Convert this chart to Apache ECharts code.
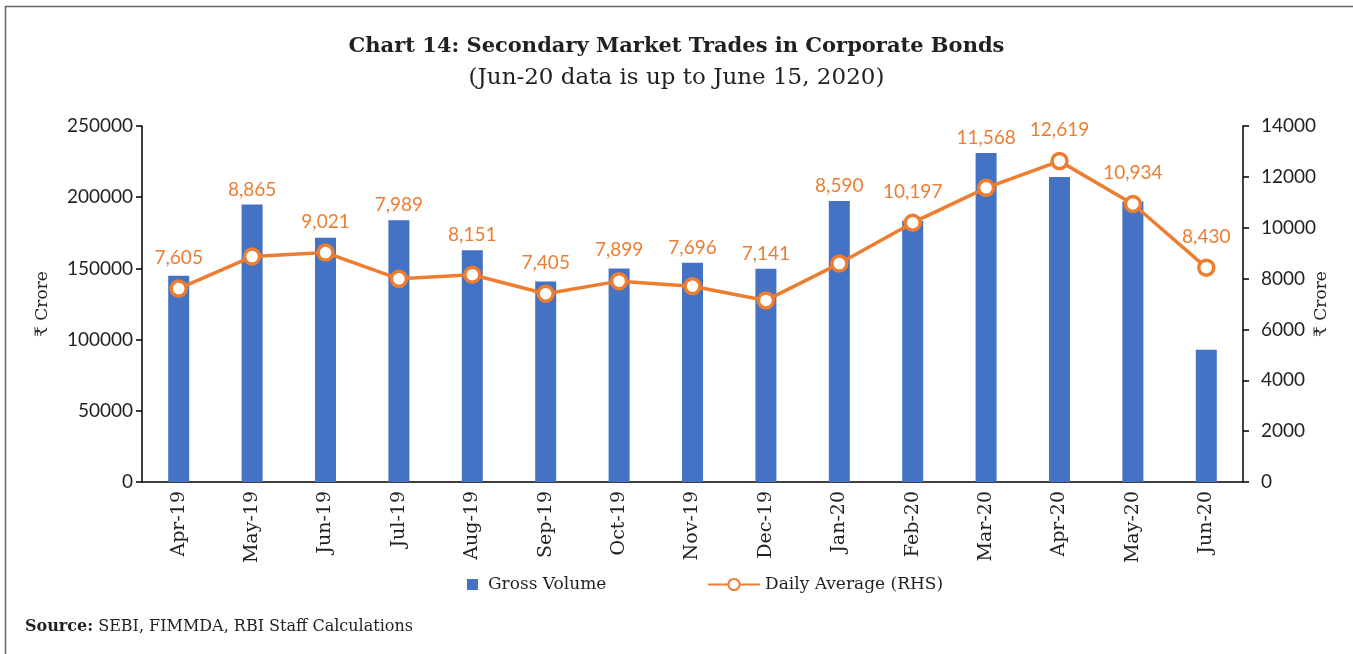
<!DOCTYPE html>
<html>
<head>
<meta charset="utf-8">
<script src="https://cdn.jsdelivr.net/npm/echarts@6/dist/echarts.min.js"></script>
<style>
  html, body { margin: 0; padding: 0; background: #fff; }
  #chart { width: 1353px; height: 654px; }
</style>
</head>
<body>
<div id="chart"></div>
<script>
// ========= 数据 =========
const categories = ["Apr-19", "May-19", "Jun-19", "Jul-19", "Aug-19", "Sep-19", "Oct-19", "Nov-19",
    "Dec-19", "Jan-20", "Feb-20", "Mar-20", "Apr-20", "May-20", "Jun-20"];
const grossVolume = [144800, 194800, 171500, 183900, 162800, 140800, 149900, 153900,
    149700, 197400, 183400, 231100, 214200, 196900, 92900];
const dailyAverage = [7605, 8865, 9021, 7989, 8151, 7405, 7899, 7696,
    7141, 8590, 10197, 11568, 12619, 10934, 8430];
const leftTicks = { min: 0, max: 250000, interval: 50000 };
const rightTicks = { min: 0, max: 14000, interval: 2000 };

const SERIF = "'DejaVu Serif', 'Liberation Serif', serif";
const SANS = "Lato, 'Noto Sans', sans-serif";
const BLUE = "#4472C4";
const ORANGE = "#ED7D31";
const INK = "#231f20";

const chart = echarts.init(document.getElementById("chart"));

const option = {
    backgroundColor: "#fff",
    animation: false,
    title: {
        text: "Chart 14: Secondary Market Trades in Corporate Bonds",
        subtext: "(Jun-20 data is up to June 15, 2020)",
        left: "center",
        top: 31,
        itemGap: 10,
        textStyle: { fontFamily: SERIF, fontSize: 21, fontWeight: "bold", color: INK },
        subtextStyle: { fontFamily: SERIF, fontSize: 23, color: INK }
    },
    grid: { left: 142, right: 110, top: 126, bottom: 172 },
    legend: [
        {
            data: ["Gross Volume"],
            left: 462, top: 571,
            itemWidth: 11, itemHeight: 11,
            icon: "rect",
            textStyle: { fontFamily: SERIF, fontSize: 17, color: INK, padding: [0, 0, 0, 5] }
        },
        {
            data: ["Daily Average (RHS)"],
            left: 702, top: 571,
            itemWidth: 52, itemHeight: 14,
            textStyle: { fontFamily: SERIF, fontSize: 17, color: INK }
        }
    ],
    xAxis: {
        type: "category",
        data: categories,
        axisLine: { lineStyle: { color: "#000", width: 1.5 } },
        axisTick: { alignWithLabel: false, length: 6, lineStyle: { color: "#000", width: 1.5 } },
        axisLabel: { rotate: 90, margin: 9, fontFamily: SERIF, fontSize: 19, color: INK }
    },
    yAxis: [
        {
            type: "value",
            ...leftTicks,
            name: "₹ Crore",
            nameLocation: "middle",
            nameRotate: 90,
            nameGap: 91,
            nameMoveOverlap: false,
            nameTextStyle: { fontFamily: SERIF, fontSize: 17, color: INK },
            axisLine: { show: true, lineStyle: { color: "#000", width: 1.5 } },
            axisTick: { show: true, length: 6, lineStyle: { color: "#000", width: 1.5 } },
            axisLabel: { margin: 9, fontFamily: SANS, fontSize: 19, color: INK, formatter: v => String(v) },
            splitLine: { show: false }
        },
        {
            type: "value",
            ...rightTicks,
            position: "right",
            name: "₹ Crore",
            nameLocation: "middle",
            nameRotate: 90,
            nameGap: 70,
            nameMoveOverlap: false,
            nameTextStyle: { fontFamily: SERIF, fontSize: 17, color: INK },
            axisLine: { show: true, lineStyle: { color: "#000", width: 1.5 } },
            axisTick: { show: true, length: 6, lineStyle: { color: "#000", width: 1.5 } },
            axisLabel: { margin: 18, fontFamily: SANS, fontSize: 19, color: INK, formatter: v => String(v) },
            splitLine: { show: false }
        }
    ],
    series: [
        {
            name: "Gross Volume",
            type: "bar",
            yAxisIndex: 0,
            barWidth: 21,
            itemStyle: { color: BLUE },
            data: grossVolume
        },
        {
            name: "Daily Average (RHS)",
            type: "line",
            yAxisIndex: 1,
            symbol: "circle",
            symbolSize: 15,
            z: 5,
            lineStyle: { color: ORANGE, width: 3.5 },
            itemStyle: { color: "#fff", borderColor: ORANGE, borderWidth: 3.5 },
            label: {
                show: true,
                position: "inside",
                fontFamily: SANS,
                fontSize: 19,
                color: ORANGE,
                formatter: p => p.value.toLocaleString("en-US")
            },
            data: dailyAverage
        }
    ],
    graphic: [
        {
            type: "rect",
            shape: { x: 5.5, y: 6.5, width: 1400, height: 700 },
            style: { fill: "none", stroke: "#666", lineWidth: 1.5 },
            silent: true
        },
        {
            type: "text",
            left: 25, top: 619,
            style: {
                text: "{b|Source:} SEBI, FIMMDA, RBI Staff Calculations",
                rich: {
                    b: { fontFamily: SERIF, fontSize: 16, fontWeight: "bold", fill: INK }
                },
                fontFamily: SERIF, fontSize: 16, fill: INK
            }
        }
    ]
};

chart.setOption(option);

// 标签放在柱顶与折线点中较高者之上
const labelled = dailyAverage.map((v, i) => {
    const pointY = chart.convertToPixel({ yAxisIndex: 1 }, v);
    const barY = chart.convertToPixel({ yAxisIndex: 0 }, grossVolume[i]);
    const labelY = Math.min(barY - 15, pointY - 31);
    return { value: v, label: { offset: [0, labelY - pointY] } };
});
chart.setOption({ series: [{}, { data: labelled }] });
</script>
</body>
</html>
